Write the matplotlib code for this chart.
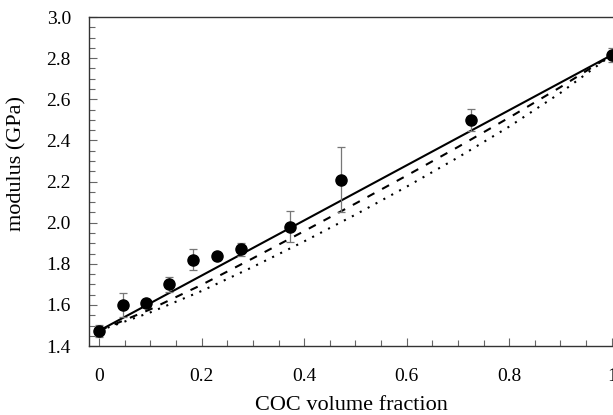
import matplotlib.pyplot as plt
from matplotlib.ticker import MultipleLocator, FormatStrFormatter

plt.rcParams['font.family'] = ['Liberation Serif', 'DejaVu Serif']

# measured points
frac = [0, 0.047, 0.091, 0.137, 0.183, 0.229, 0.276, 0.373, 0.471, 0.725, 1.0]
modulus = [1.475, 1.60, 1.61, 1.70, 1.82, 1.84, 1.87, 1.98, 2.21, 2.50, 2.815]
err = [0.03, 0.06, 0.02, 0.035, 0.05, 0.0, 0.03, 0.075, 0.16, 0.055, 0.035]

# model curves
x_lin = [0, 1.0]
y_lin = [1.475, 2.815]
x_model = [0, 0.1, 0.2, 0.3, 0.4, 0.5, 0.6, 0.7, 0.8, 0.9, 1.0]
y_dash = [1.475, 1.579, 1.698, 1.827, 1.959, 2.093, 2.229, 2.368, 2.511, 2.659, 2.815]
y_dot = [1.475, 1.564, 1.668, 1.785, 1.909, 2.039, 2.175, 2.317, 2.467, 2.631, 2.815]

fig = plt.figure(figsize=(6.13, 4.15), dpi=100)
ax = fig.add_axes([0.145, 0.166, 0.857, 0.793])

ax.plot(x_lin, y_lin, color='black', lw=1.5, solid_capstyle='butt')
ax.plot(x_model, y_dash, color='black', lw=1.5, dashes=(3.8, 4.2))
ax.plot(x_model, y_dot, color='black', lw=1.5, dashes=(1, 3.3))

ax.errorbar(frac, modulus, yerr=err, fmt='o', color='black', ms=8,
            ecolor='#777777', elinewidth=0.9, capsize=3, capthick=0.9,
            zorder=5, clip_on=False)

ax.set_xlim(-0.02, 1.005)
ax.set_ylim(1.4, 3.0)
ax.xaxis.set_major_locator(MultipleLocator(0.2))
ax.xaxis.set_minor_locator(MultipleLocator(0.05))
ax.yaxis.set_major_locator(MultipleLocator(0.2))
ax.yaxis.set_minor_locator(MultipleLocator(0.05))
ax.xaxis.set_major_formatter(FormatStrFormatter('%g'))
ax.yaxis.set_major_formatter(FormatStrFormatter('%.1f'))

ax.tick_params(which='both', direction='in', color='#666666', width=0.8,
               labelsize=14)
ax.tick_params(which='major', length=6)
ax.tick_params(which='minor', length=4)
ax.tick_params(axis='x', pad=16)
ax.tick_params(axis='y', pad=13)

ax.spines['right'].set_visible(False)
for s in ['left', 'top', 'bottom']:
    ax.spines[s].set_linewidth(1.0)
    ax.spines[s].set_color('#333333')

ax.set_xlabel('COC volume fraction', fontsize=16, labelpad=8)
ax.set_ylabel('modulus (GPa)', fontsize=16)
ax.yaxis.set_label_coords(-0.118, 0.556)

fig.savefig('out.png', dpi=100)
